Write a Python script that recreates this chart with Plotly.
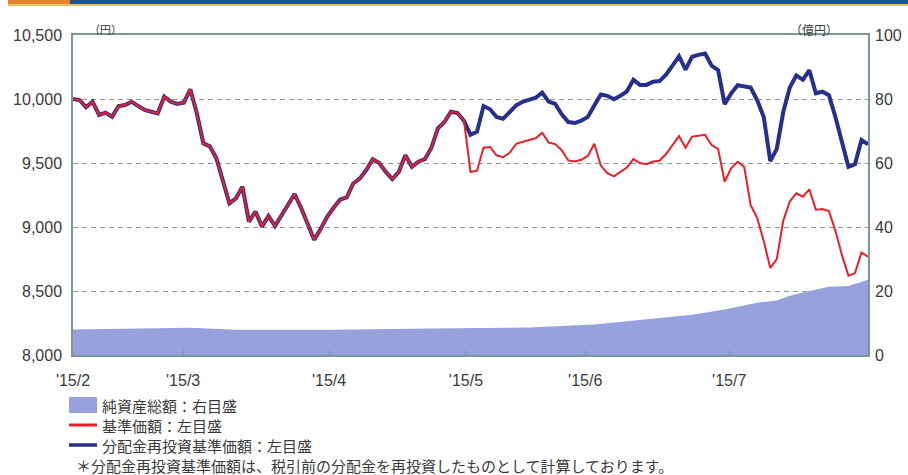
import plotly.graph_objects as go

# ---------------- data ----------------
day_index = list(range(123))

nav_price = [  # 基準価額 (left axis, 円)
    10000, 9992, 9935, 9979, 9875, 9893, 9862, 9945, 9953, 9979,
    9945, 9914, 9900, 9888, 10018, 9979, 9961, 9971, 10076, 9888,
    9654, 9630, 9537, 9360, 9185, 9224, 9315, 9042, 9120, 9003,
    9086, 9008, 9090, 9170, 9258, 9150, 9030, 8900, 8985, 9080,
    9150, 9215, 9232, 9340, 9378, 9445, 9530, 9500, 9430, 9375,
    9430, 9560, 9470, 9510, 9530, 9620, 9770, 9820, 9900, 9890,
    9830, 9430, 9440, 9620, 9625, 9560, 9545, 9580, 9650, 9667,
    9680, 9693, 9737, 9660, 9648, 9600, 9520, 9512, 9525, 9555,
    9650, 9480, 9420, 9395, 9430, 9465, 9530, 9500, 9490, 9512,
    9518, 9570, 9640, 9710, 9620, 9706, 9712, 9720, 9640, 9610,
    9354, 9458, 9510, 9470, 9170, 9070, 8890, 8680, 8750, 9050,
    9200, 9263, 9237, 9294, 9135, 9140, 9125, 8970, 8780, 8620,
    8640, 8800, 8768,
]

reinvest_after_split = [  # 分配金再投資基準価額 from day 61 on
    9720, 9745, 9945, 9920, 9860, 9845, 9900, 9950, 9978,
    9990, 10010, 10050, 9980, 9962, 9880, 9820, 9812, 9830, 9860,
    9950, 10035, 10025, 9998, 10025, 10060, 10150, 10110, 10110, 10135,
    10140, 10190, 10260, 10335, 10230, 10330, 10345, 10355, 10260, 10225,
    9960, 10044, 10108, 10100, 10090, 9990, 9860, 9515, 9610, 9900,
    10090, 10185, 10150, 10225, 10045, 10057, 10030, 9860, 9660, 9470,
    9490, 9680, 9645,
]
reinvest_price = nav_price[:61] + reinvest_after_split

asset_days = [0, 15, 18, 25, 40, 55, 60, 70, 80, 85, 90, 95, 100, 105, 108, 110, 113, 116, 119, 122]
net_assets = [8.0, 8.4, 8.5, 7.9, 7.9, 8.3, 8.4, 8.6, 9.5, 10.5, 11.6, 12.6, 14.2, 16.3, 17.0, 18.5, 20.0, 21.3, 21.6, 23.5]

month_tick_pos = [0, 16.9, 39.3, 60.3, 78.6, 100.7]
month_labels = ["'15/2", "'15/3", "'15/4", "'15/5", "'15/6", "'15/7"]

left_ticks = [8000, 8500, 9000, 9500, 10000, 10500]
right_ticks = [0, 20, 40, 60, 80, 100]

# ---------------- styling ----------------
RED = "#e8202a"
BLUE = "#262f8e"
AREA = "#97a1dc"
FRAME = "#7d9696"
TXT = "#3a3a3a"
NUM_FONT = "Liberation Sans, Arial, sans-serif"
JP_FONT = "Noto Sans CJK JP, sans-serif"

PX_L, PX_R, PX_T, PX_B = 73, 868, 35, 355


def fx(px):
    return (px - PX_L) / (PX_R - PX_L)


def fy(py):
    return (PX_B - py) / (PX_B - PX_T)


fig = go.Figure()
fig.add_trace(go.Scatter(
    x=asset_days, y=net_assets, yaxis="y2", mode="lines",
    line=dict(width=0, color=AREA), fill="tozeroy", fillcolor=AREA,
    name="純資産総額", showlegend=False, hoverinfo="skip"))
fig.add_trace(go.Scatter(
    x=day_index, y=reinvest_price, mode="lines",
    line=dict(width=4, color=BLUE), name="分配金再投資基準価額", showlegend=False))
fig.add_trace(go.Scatter(
    x=day_index, y=nav_price, mode="lines",
    line=dict(width=2, color=RED), name="基準価額", showlegend=False))

shapes = [
    # header strip
    dict(type="rect", xref="paper", yref="paper", x0=fx(8), x1=fx(70), y0=fy(0), y1=fy(5),
         fillcolor="#e8832c", line=dict(width=0), layer="above"),
    dict(type="rect", xref="paper", yref="paper", x0=fx(70), x1=fx(908), y0=fy(0), y1=fy(4),
         fillcolor="#1f568a", line=dict(width=0), layer="above"),
    dict(type="rect", xref="paper", yref="paper", x0=fx(8), x1=fx(908), y0=fy(4), y1=fy(6),
         fillcolor="#dcc06a", line=dict(width=0), layer="above"),
    # legend swatches
    dict(type="rect", xref="paper", yref="paper", x0=fx(69), x1=fx(97), y0=fy(397), y1=fy(413),
         fillcolor=AREA, line=dict(width=0)),
    dict(type="line", xref="paper", yref="paper", x0=fx(69), x1=fx(97), y0=fy(425), y1=fy(425),
         line=dict(color=RED, width=3)),
    dict(type="line", xref="paper", yref="paper", x0=fx(69), x1=fx(97), y0=fy(445), y1=fy(445),
         line=dict(color=BLUE, width=3.5)),
]

annotations = [
    dict(text="（円）", x=fx(87), y=fy(19), xref="paper", yref="paper", showarrow=False,
         font=dict(family=JP_FONT, size=11, color=TXT)),
    dict(text="（億円）", x=fx(840), y=fy(19), xref="paper", yref="paper", showarrow=False,
         font=dict(family=JP_FONT, size=12, color=TXT)),
    dict(text="純資産総額：右目盛", x=fx(100), y=fy(405), xref="paper", yref="paper",
         xanchor="left", yanchor="middle", showarrow=False,
         font=dict(family=JP_FONT, size=15, color=TXT)),
    dict(text="基準価額：左目盛", x=fx(100), y=fy(425), xref="paper", yref="paper",
         xanchor="left", yanchor="middle", showarrow=False,
         font=dict(family=JP_FONT, size=15, color=TXT)),
    dict(text="分配金再投資基準価額：左目盛", x=fx(100), y=fy(445), xref="paper", yref="paper",
         xanchor="left", yanchor="middle", showarrow=False,
         font=dict(family=JP_FONT, size=15, color=TXT)),
    dict(text="＊分配金再投資基準価額は、税引前の分配金を再投資したものとして計算しております。",
         x=fx(74), y=fy(465), xref="paper", yref="paper",
         xanchor="left", yanchor="middle", showarrow=False,
         font=dict(family=JP_FONT, size=15, color=TXT)),
]

fig.update_layout(
    width=908, height=475,
    margin=dict(l=PX_L, r=908 - PX_R, t=PX_T, b=475 - PX_B),
    paper_bgcolor="white", plot_bgcolor="white",
    showlegend=False,
    shapes=shapes, annotations=annotations,
    xaxis=dict(
        range=[0, 122], tickvals=month_tick_pos, ticktext=month_labels,
        ticks="inside", ticklen=5, tickcolor=FRAME, tickwidth=1,
        showgrid=False, zeroline=False, automargin=False,
        showline=True, linecolor=FRAME, linewidth=1.5, mirror=True,
        tickfont=dict(family=NUM_FONT, size=16, color=TXT),
        ticklabelstandoff=10,
    ),
    yaxis=dict(
        range=[8000, 10500], tickvals=left_ticks, tickformat=",",
        showgrid=True, gridcolor="#8f9a9a", gridwidth=1, griddash="5px,4px",
        zeroline=False, showline=True, linecolor=FRAME, linewidth=1.5, mirror=True,
        ticks="", tickfont=dict(family=NUM_FONT, size=16, color=TXT),
        ticklabelstandoff=6, automargin=False,
    ),
    yaxis2=dict(
        range=[0, 100], tickvals=right_ticks, overlaying="y", side="right",
        showgrid=False, zeroline=False, showline=False, ticks="",
        tickfont=dict(family=NUM_FONT, size=16, color=TXT),
        ticklabelstandoff=6, automargin=False,
    ),
)

fig.write_html(
    "out.html",
    config={"displayModeBar": False},
    post_script="document.body.style.margin='0';document.body.style.padding='0';",
)
